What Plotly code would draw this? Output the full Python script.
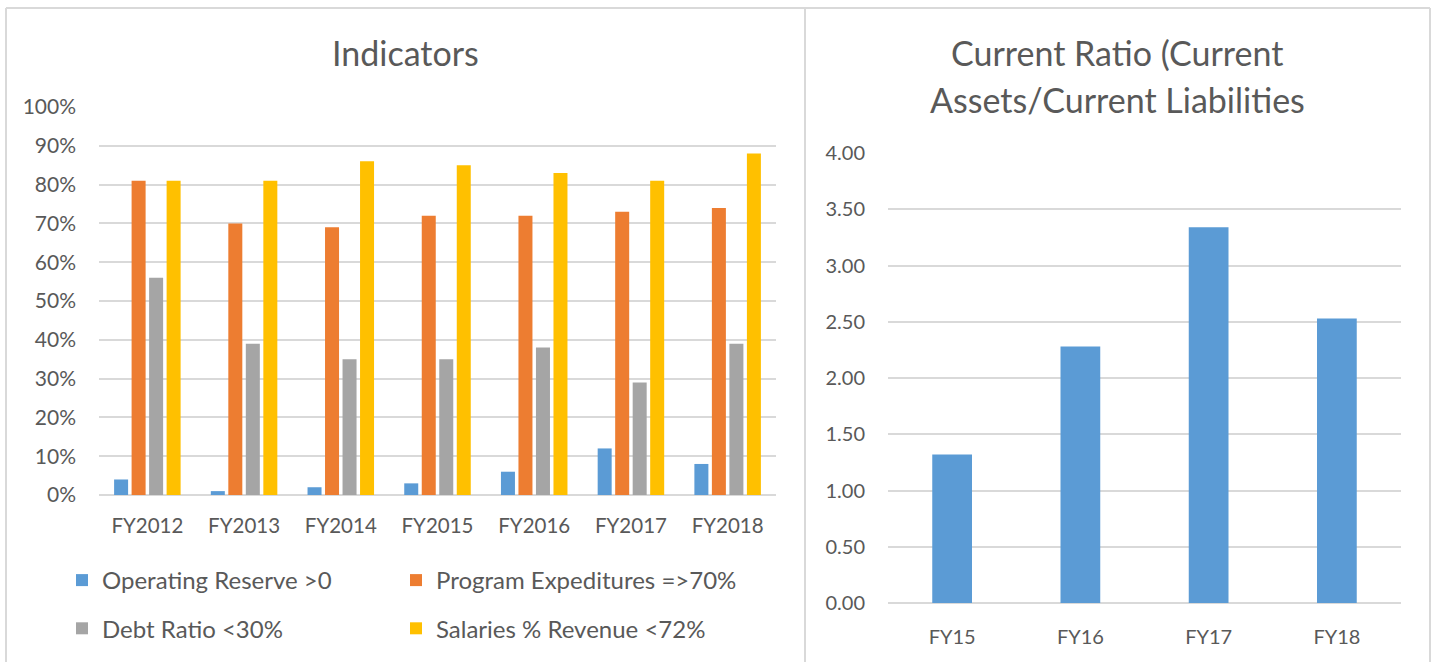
import plotly.graph_objects as go

W, H = 1438, 662

years = ["FY2012", "FY2013", "FY2014", "FY2015", "FY2016", "FY2017", "FY2018"]
operating_reserve = [0.04, 0.01, 0.02, 0.03, 0.06, 0.12, 0.08]
program_expenditures = [0.81, 0.70, 0.69, 0.72, 0.72, 0.73, 0.74]
debt_ratio = [0.56, 0.39, 0.35, 0.35, 0.38, 0.29, 0.39]
salaries_revenue = [0.81, 0.81, 0.86, 0.85, 0.83, 0.81, 0.88]

cr_years = ["FY15", "FY16", "FY17", "FY18"]
current_ratio = [1.32, 2.28, 3.34, 2.53]

pct_ticks = [i / 10 for i in range(11)]
pct_labels = [f"{i*10}%" for i in range(11)]
cr_ticks = [0, 0.5, 1, 1.5, 2, 2.5, 3, 3.5, 4]
cr_labels = [f"{v:.2f}" for v in cr_ticks]

BLUE, ORANGE, GREY, YELLOW = "#5B9BD5", "#ED7D31", "#A5A5A5", "#FFC000"
TXT = "#595959"
GRID = "#D9D9D9"
FONT = "Lato"


def px(x):
    return x / W


def py(y):
    return 1 - y / H


fig = go.Figure()
series = [
    ("Operating Reserve >0", operating_reserve, BLUE, "legend"),
    ("Program Expeditures =>70%", program_expenditures, ORANGE, "legend2"),
    ("Debt Ratio <30%", debt_ratio, GREY, "legend"),
    ("Salaries % Revenue <72%", salaries_revenue, YELLOW, "legend2"),
]
for name, vals, col, leg in series:
    fig.add_trace(go.Bar(
        x=years, y=vals, name=name, marker_color=col, marker_line_width=0,
        xaxis="x", yaxis="y", legend=leg, legendgroup=name,
    ))

fig.add_trace(go.Bar(
    x=cr_years, y=current_ratio, name="Current Ratio", marker_color=BLUE,
    marker_line_width=0, xaxis="x2", yaxis="y2", width=0.31, showlegend=False,
))

legend_common = dict(
    orientation="v", font=dict(family=FONT, size=24, color=TXT),
    bgcolor="rgba(0,0,0,0)", tracegroupgap=14, yanchor="top",
    itemclick=False, itemdoubleclick=False,
)

fig.update_layout(
    width=W, height=H, margin=dict(l=0, r=0, t=0, b=0, pad=0, autoexpand=False),
    paper_bgcolor="white", plot_bgcolor="white",
    barmode="group", bargap=0.276, bargroupgap=0.2,
    font=dict(family=FONT, color=TXT),
    xaxis=dict(domain=[px(99), px(776)], anchor="y", showgrid=False,
               tickfont=dict(size=20.5, color=TXT), ticks="", ticklabelstandoff=16,
               showline=False, fixedrange=True),
    yaxis=dict(domain=[py(495), py(107)], anchor="x", range=[0, 1],
               tickvals=pct_ticks, ticktext=pct_labels,
               tickfont=dict(size=21, color=TXT), showgrid=True, gridcolor=GRID,
               gridwidth=1.5, zeroline=True, zerolinecolor=GRID, zerolinewidth=2,
               ticks="", ticklabelstandoff=22, fixedrange=True),
    xaxis2=dict(domain=[px(888), px(1401)], anchor="y2", showgrid=False,
                tickfont=dict(size=20, color=TXT), ticks="", ticklabelstandoff=20,
                fixedrange=True),
    yaxis2=dict(domain=[py(603), py(153)], anchor="x2", range=[0, 4],
                tickvals=cr_ticks, ticktext=cr_labels,
                tickfont=dict(size=20, color=TXT), showgrid=True, gridcolor=GRID,
                gridwidth=1.5, zeroline=True, zerolinecolor=GRID, zerolinewidth=2,
                ticks="", ticklabelstandoff=22, fixedrange=True),
    legend=dict(x=px(62), y=py(558), xanchor="left", **legend_common),
    legend2=dict(x=px(396), y=py(558), xanchor="left", **legend_common),
    annotations=[
        dict(text="Indicators", x=px(405), y=py(52), xref="paper", yref="paper",
             showarrow=False, font=dict(family=FONT, size=34, color=TXT),
             xanchor="center", yanchor="middle"),
        dict(text="Current Ratio (Current", x=px(1117), y=py(52), xref="paper",
             yref="paper", showarrow=False, font=dict(family=FONT, size=34, color=TXT),
             xanchor="center", yanchor="middle"),
        dict(text="Assets/Current Liabilities", x=px(1117), y=py(100), xref="paper",
             yref="paper", showarrow=False, font=dict(family=FONT, size=34, color=TXT),
             xanchor="center", yanchor="middle"),
    ],
    shapes=[
        dict(type="line", xref="paper", yref="paper", x0=px(6), x1=px(1430),
             y0=py(8), y1=py(8), line=dict(color=GRID, width=2)),
        dict(type="line", xref="paper", yref="paper", x0=px(6), x1=px(6),
             y0=py(8), y1=0, line=dict(color=GRID, width=2)),
        dict(type="line", xref="paper", yref="paper", x0=px(805), x1=px(805),
             y0=py(8), y1=0, line=dict(color=GRID, width=2)),
        dict(type="line", xref="paper", yref="paper", x0=px(1430), x1=px(1430),
             y0=py(8), y1=0, line=dict(color=GRID, width=2)),
    ],
)

fig.write_html(
    "out.html",
    config={"displayModeBar": False},
    post_script="document.body.style.margin='0';document.body.style.overflow='hidden';",
)
